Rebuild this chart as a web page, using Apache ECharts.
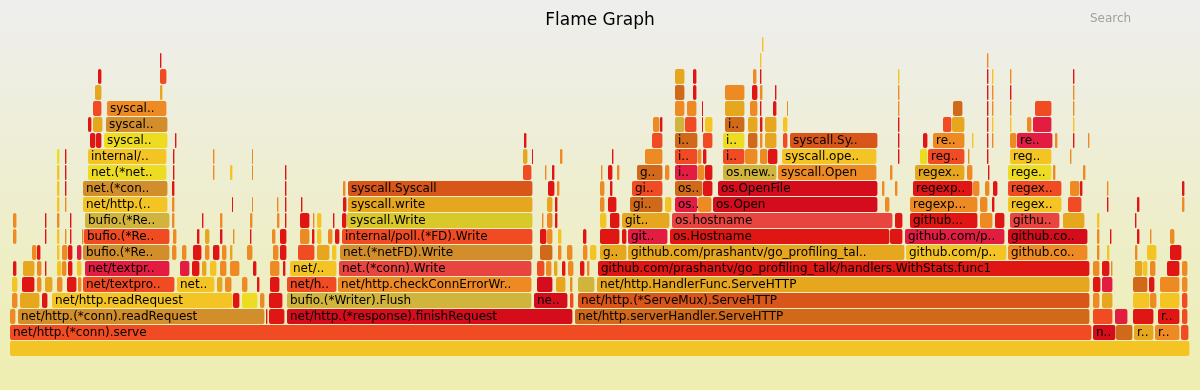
<!DOCTYPE html>
<html><head><meta charset="utf-8">
<script src="https://cdn.jsdelivr.net/npm/echarts@6/dist/echarts.min.js"></script>
<style>html,body{margin:0;padding:0;}#c{width:1200px;height:390px;}</style>
</head><body><div id="c"></div>
<script>
// Frames per stack depth: [startSample, endSample, label]; total samples = 1180
const L0 = [[0,1180,'']];
const L1 = [[0,1082,'net/http.(*conn).serve'],[1083,1106,'n..'],[1106,1123,''],[1124,1144,'r..'],[1145,1170,'r..'],[1171,1179,'']];
const L2 = [[0,6,''],[8,255,'net/http.(*conn).readRequest'],[256,258,''],[259,275,''],[277,563,'net/http.(*response).finishRequest'],[565,1080,'net/http.serverHandler.ServeHTTP'],[1083,1103,''],[1105,1118,''],[1123,1144,''],[1148,1170,'r..'],[1172,1178,'']];
const L3 = [[2,8,''],[10,30,''],[32,38,''],[42,223,'net/http.readRequest'],[223,230,''],[232,248,''],[250,255,''],[259,273,''],[277,522,'bufio.(*Writer).Flush'],[524,558,'ne..'],[560,564,''],[568,1080,'net/http.(*ServeMux).ServeHTTP'],[1083,1090,''],[1092,1103,''],[1123,1140,''],[1140,1147,''],[1150,1170,''],[1172,1178,'']];
const L4 = [[2,8,''],[12,25,''],[27,32,''],[35,43,''],[47,53,''],[57,67,''],[68,72,''],[73,165,'net/textpro..'],[167,205,'net..'],[207,213,''],[215,222,''],[232,238,''],[247,250,''],[260,270,''],[277,327,'net/h..'],[328,522,'net/http.checkConnErrorWr..'],[527,543,''],[546,556,''],[560,563,''],[568,585,''],[587,1080,'net/http.HandlerFunc.ServeHTTP'],[1083,1091,''],[1092,1103,''],[1123,1138,''],[1139,1145,''],[1150,1170,''],[1172,1178,'']];
const L5 = [[3,7,''],[13,25,''],[27,32,''],[35,37,''],[47,52,''],[52,57,''],[58,63,''],[67,72,''],[75,160,'net/textpr..'],[170,180,''],[182,190,''],[192,197,''],[200,207,''],[210,217,''],[220,230,''],[243,247,''],[260,270,''],[273,276,''],[280,327,'net/..'],[329,522,'net.(*conn).Write'],[527,535,''],[536,542,''],[544,548,''],[552,556,''],[558,564,''],[570,575,''],[577,580,''],[588,1080,'github.com/prashantv/go_profiling_talk/handlers.WithStats.func1'],[1083,1090,''],[1092,1100,''],[1101,1103,''],[1125,1133,''],[1133,1138,''],[1140,1146,''],[1157,1170,''],[1172,1178,'']];
const L6 = [[22,27,''],[27,31,''],[47,50,''],[52,58,''],[58,63,''],[67,72,''],[73,160,'bufio.(*Re..'],[162,167,''],[172,177,''],[183,192,''],[195,200,''],[203,210,''],[212,217,''],[220,223,''],[237,243,''],[263,269,''],[270,277,''],[288,305,''],[307,320,''],[322,327,''],[330,523,'net.(*netFD).Write'],[530,543,''],[548,552,''],[557,563,''],[573,578,''],[580,587,''],[590,617,'g..'],[618,895,'github.com/prashantv/go_profiling_tal..'],[896,997,'github.com/p..'],[998,1078,'github.co..'],[1087,1090,''],[1097,1100,''],[1125,1128,''],[1137,1147,''],[1160,1172,'']];
const L7 = [[3,7,''],[35,37,''],[47,50,''],[55,57,''],[60,62,''],[72,74,''],[74,160,'bufio.(*Re..'],[163,167,''],[187,190,''],[195,200,''],[210,213,''],[223,225,''],[240,242,''],[262,266,''],[270,277,''],[290,300,''],[302,305,''],[307,312,''],[318,323,''],[325,330,''],[332,523,'internal/poll.(*FD).Write'],[530,537,''],[537,543,''],[548,552,''],[573,577,''],[590,610,''],[612,617,''],[618,658,'git..'],[660,880,'os.Hostname'],[880,893,''],[895,995,'github.com/p..'],[998,1078,'github.co..'],[1087,1090,''],[1100,1102,''],[1127,1130,''],[1140,1142,''],[1160,1165,'']];
const L8 = [[3,7,''],[35,37,''],[47,50,''],[60,62,''],[75,160,'bufio.(*Re..'],[162,165,''],[192,194,''],[210,213,''],[240,243,''],[267,270,''],[275,277,''],[290,300,''],[303,305,''],[307,312,''],[323,325,''],[332,337,''],[337,523,'syscall.Write'],[532,534,''],[537,543,''],[545,548,''],[590,597,''],[600,610,''],[612,660,'git..'],[662,883,'os.hostname'],[885,893,''],[900,968,'github...'],[970,983,''],[985,995,''],[1000,1050,'githu..'],[1053,1075,''],[1087,1090,''],[1125,1127,'']];
const L9 = [[47,50,''],[55,57,''],[73,158,'net/http.(..'],[162,165,''],[222,223,''],[242,243,''],[267,269,''],[275,277,''],[291,293,''],[333,337,''],[338,523,'syscall.write'],[537,543,''],[545,548,''],[590,595,''],[598,607,''],[620,653,'gi..'],[655,662,''],[665,688,'os..'],[688,702,''],[703,868,'os.Open'],[875,880,''],[900,968,'regexp...'],[970,978,''],[982,985,''],[998,1052,'regex..'],[1058,1072,''],[1097,1099,''],[1127,1130,''],[1172,1175,'']];
const L10 = [[47,50,''],[55,57,''],[73,158,'net.(*con..'],[162,165,''],[275,277,''],[333,336,''],[338,523,'syscall.Syscall'],[538,545,''],[547,550,''],[590,595,''],[600,603,''],[622,653,'gi..'],[665,693,'os..'],[693,703,''],[708,868,'os.OpenFile'],[872,875,''],[885,888,''],[903,963,'regexp..'],[963,970,''],[975,980,''],[983,988,''],[998,1052,'regex..'],[1060,1070,''],[1070,1073,''],[1097,1099,''],[1172,1175,'']];
const L11 = [[47,50,''],[55,57,''],[78,157,'net.(*net..'],[163,165,''],[203,205,''],[220,223,''],[242,243,''],[275,277,''],[513,522,''],[535,537,''],[542,545,''],[591,593,''],[598,603,''],[607,610,''],[627,653,'g..'],[655,660,''],[665,688,'i..'],[688,695,''],[695,703,''],[713,767,'os.new..'],[768,867,'syscall.Open'],[880,883,''],[905,955,'regex..'],[957,963,''],[978,980,''],[998,1042,'rege..'],[1043,1046,''],[1073,1076,'']];
const L12 = [[47,50,''],[55,57,''],[78,157,'internal/..'],[163,165,''],[203,205,''],[242,243,''],[513,518,''],[522,523,''],[550,553,''],[602,604,''],[635,653,''],[665,688,'i..'],[688,692,''],[693,697,''],[713,735,'i..'],[735,748,''],[750,758,''],[758,768,''],[772,867,'syscall.ope..'],[888,890,''],[910,918,''],[918,955,'reg..'],[958,960,''],[977,979,''],[1000,1042,'reg..'],[1060,1062,'']];
const L13 = [[80,86,''],[86,92,''],[94,158,'syscal..'],[165,167,''],[514,517,''],[642,653,''],[665,688,'i..'],[693,703,''],[713,735,'i..'],[738,748,''],[750,753,''],[755,767,''],[773,778,''],[780,868,'syscall.Sy..'],[888,890,''],[913,918,''],[923,955,'re..'],[962,964,''],[977,979,''],[982,984,''],[1000,1007,''],[1007,1043,'re..'],[1045,1048,''],[1063,1065,''],[1078,1080,'']];
const L14 = [[78,82,''],[83,93,''],[96,158,'syscal..'],[643,650,''],[650,653,''],[665,675,''],[675,687,''],[692,693,''],[695,703,''],[715,735,'i..'],[738,748,''],[750,753,''],[755,767,''],[773,778,''],[888,890,''],[933,942,''],[942,955,''],[977,979,''],[982,984,''],[1000,1002,''],[1017,1022,''],[1023,1042,''],[1063,1065,'']];
const L15 = [[83,92,''],[97,157,'syscal..'],[665,675,''],[677,687,''],[692,693,''],[715,735,''],[740,748,''],[750,752,''],[763,767,''],[777,778,''],[888,890,''],[943,953,''],[977,979,''],[982,984,''],[1000,1002,''],[1025,1042,''],[1063,1065,'']];
const L16 = [[85,92,''],[150,153,''],[665,675,''],[683,687,''],[715,735,''],[742,748,''],[750,753,''],[765,767,''],[888,890,''],[977,979,''],[982,984,''],[1000,1002,''],[1063,1065,'']];
const L17 = [[88,92,''],[150,157,''],[665,675,''],[683,687,''],[743,747,''],[750,752,''],[888,890,''],[977,979,''],[982,984,''],[1000,1002,''],[1063,1065,'']];
const L18 = [[150,152,''],[750,752,''],[977,979,'']];
const L19 = [[752,754,'']];
const levels = [L0,L1,L2,L3,L4,L5,L6,L7,L8,L9,L10,L11,L12,L13,L14,L15,L16,L17,L18,L19];

// Style: colour keys per frame (parallel to the level arrays)
const hotPalette = {r:'#e01614',R:'#d40c1c',c:'#e31c42',p:'#e84440',o:'#f04b23',B:'#d8561a',b:'#d06a1a',O:'#ee8a24',g:'#e6a61e',G:'#d28e2a',y:'#f4c424',Y:'#eedc22',l:'#d0b43c',L:'#d9c82a'};
const colorKeys = [
 'y',
 'o R b g O o',
 'O G r r R b o c r r o',
 'O g r y r Y O r l R o B O g y O y o',
 'y r O g O r O o y g O O r r o O R g O l g r c b r O O',
 'r g O r y O r y c c r g y O O r O r y p o O g r O r O r O r O g y O r O',
 'O r y O r c G O O r O r O g O O r o g y G b O O O y g g y O O y O y r',
 'O r y O r O o O r g r O r O r O r y O r o r O y r r r c r r c R O r r O O',
 'O r O r l O r O O O r r O y r r L O O r y r g p r r O r p g y r',
 'y O y O r O O r r r g g r O r b y c O R O O O r y o r r O',
 'y r G r r O B r O O r o b r R O O r O O r o O r O r',
 'y r Y r O y O r o O r O r O b O c O r l O O g O r Y O O',
 'Y r y r O O g r O r O o O r o O O r y r Y o O r y O',
 'r r Y r r o b o Y b O g o B r r O y r O O c O r O',
 'r g G O r l o r y b g r g y r o g r y y O c y',
 'o O O O r g O r r O O b r O O o O',
 'g g b r O r O r O r O r O',
 'r o g r O r y r y O r',
 'r y O',
 'y'
].map(s => s.split(' '));

const frames = [];
levels.forEach((row, lv) => row.forEach((f, i) => {
  frames.push({ value: [f[0], f[1], lv], name: f[2], itemStyle: { color: hotPalette[colorKeys[lv][i]] || '#ee8a24' } });
}));

const chart = echarts.init(document.getElementById('c'));
chart.setOption({
  backgroundColor: { type: 'linear', x: 0, y: 0, x2: 0, y2: 1, colorStops: [{ offset: 0, color: '#eeeeee' }, { offset: 1, color: '#eeeeb0' }] },
  animation: false,
  title: { text: 'Flame Graph', left: 'center', top: 7, textStyle: { fontFamily: 'DejaVu Sans', fontSize: 17, fontWeight: 'normal', color: '#000' } },
  graphic: [{ type: 'text', left: 1090, top: 13, style: { text: 'Search', font: '12px "DejaVu Sans"', fill: '#a0a0a0' } }],
  grid: { left: 10, right: 10, top: 37, bottom: 33 },
  xAxis: { type: 'value', min: 0, max: 1180, show: false },
  yAxis: { type: 'value', min: 0, max: 20, show: false },
  series: [{
    type: 'custom',
    encode: { x: [0, 1], y: 2 },
    data: frames,
    renderItem: function (params, api) {
      const s = api.value(0), e = api.value(1), lv = api.value(2);
      const p0 = api.coord([s, lv + 1]);
      const p1 = api.coord([e, lv]);
      const x = p0[0], y = p0[1];
      const w = Math.max(p1[0] - p0[0] - 0.6, 1);
      const h = p1[1] - p0[1] - 1;
      const f = frames[params.dataIndex];
      const children = [{ type: 'rect', shape: { x: x, y: y, width: w, height: h, r: Math.min(2, w / 2) }, style: { fill: f.itemStyle.color } }];
      if (f.name) {
        children.push({ type: 'text', style: { text: f.name, x: x + 3, y: y + h / 2 + 0.5, verticalAlign: 'middle', font: '12px "DejaVu Sans"', fill: '#000' } });
      }
      return { type: 'group', children: children };
    }
  }]
});
</script>
</body></html>
